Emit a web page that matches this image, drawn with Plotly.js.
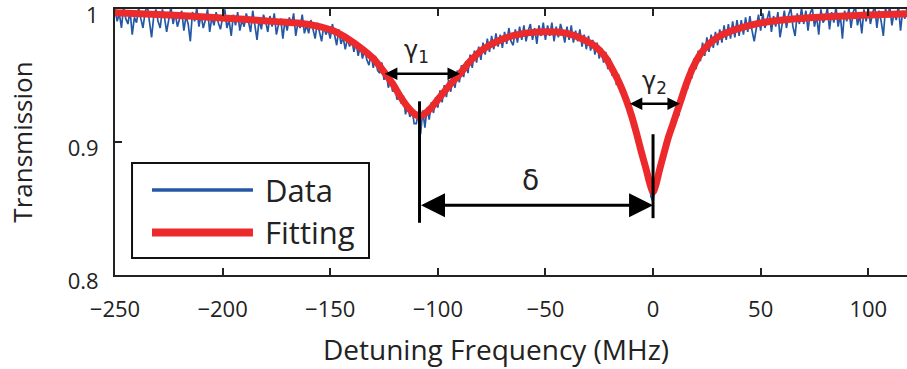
<!DOCTYPE html>
<html>
<head>
<meta charset="utf-8">
<script src="https://cdn.plot.ly/plotly-3.0.1.min.js"></script>
<style>html,body{margin:0;padding:0;background:#fff;}#chart{width:907px;height:369px;}</style>
</head>
<body>
<div id="chart"></div>
<script>
// ---- data ----
const dataX0 = -250;      // first sample (MHz)
const dataStep = 1;       // sample spacing (MHz)
const dataY = [
 1.001,0.991,0.997,0.986,1.002,0.993,0.989,0.999,0.981,0.994,
 0.990,1.001,0.993,0.986,0.998,1.003,0.991,0.979,0.995,1.000,
 0.991,0.986,1.000,0.994,0.983,0.993,1.002,0.989,0.997,0.987,
 0.993,0.999,0.984,0.995,0.989,0.976,0.998,0.991,1.001,0.987,
 0.996,0.986,0.992,1.000,0.983,0.994,0.988,0.998,0.990,0.985,
 0.994,1.000,0.986,0.992,0.980,0.996,0.988,0.998,0.984,0.992,
 0.987,0.997,0.991,0.983,0.999,0.988,0.977,0.993,0.985,0.996,
 0.991,0.983,0.995,0.987,0.997,0.981,0.989,0.993,0.978,0.992,
 0.984,0.994,0.988,0.997,0.980,0.990,0.986,0.996,0.982,0.988,
 0.982,0.992,0.986,0.978,0.990,0.984,0.976,0.988,0.981,0.985,
 0.978,0.989,0.981,0.973,0.985,0.974,0.979,0.970,0.978,0.972,
 0.978,0.968,0.975,0.965,0.973,0.963,0.970,0.962,0.958,0.967,
 0.956,0.965,0.954,0.952,0.960,0.947,0.953,0.941,0.948,0.938,
 0.945,0.932,0.937,0.929,0.935,0.921,0.928,0.919,0.925,0.914,
 0.914,0.923,0.906,0.924,0.911,0.926,0.917,0.930,0.922,0.934,
 0.926,0.939,0.930,0.943,0.934,0.947,0.938,0.950,0.941,0.954,
 0.945,0.958,0.949,0.961,0.952,0.966,0.956,0.969,0.960,0.972,
 0.962,0.975,0.966,0.978,0.968,0.980,0.970,0.982,0.972,0.981,
 0.971,0.983,0.974,0.986,0.976,0.973,0.985,0.975,0.987,0.977,
 0.988,0.976,0.984,0.989,0.977,0.986,0.974,0.988,0.980,0.990,
 0.977,0.988,0.980,0.990,0.976,0.987,0.979,0.989,0.983,0.975,
 0.987,0.977,0.988,0.975,0.984,0.976,0.985,0.972,0.981,0.970,
 0.980,0.969,0.977,0.966,0.975,0.963,0.971,0.960,0.968,0.955,
 0.963,0.950,0.956,0.943,0.951,0.937,0.942,0.930,0.934,0.920,
 0.925,0.909,0.913,0.897,0.901,0.884,0.889,0.872,0.876,0.859,
 0.855,0.872,0.866,0.885,0.880,0.896,0.892,0.908,0.903,0.918,
 0.913,0.928,0.920,0.938,0.931,0.947,0.940,0.956,0.948,0.963,
 0.955,0.969,0.961,0.975,0.965,0.979,0.968,0.981,0.971,0.983,
 0.973,0.985,0.975,0.988,0.977,0.989,0.978,0.991,0.979,0.992,
 0.980,0.992,0.981,0.994,0.983,0.995,0.984,0.976,0.986,0.996,
 0.984,0.997,0.986,0.993,0.999,0.983,0.995,0.987,0.998,0.979,
 0.988,0.999,0.986,0.996,1.001,0.987,0.980,0.997,0.989,1.001,
 0.989,0.999,0.984,0.997,1.001,0.987,0.995,0.981,1.000,0.990,
 0.993,1.001,0.985,0.998,0.990,1.002,0.987,0.996,0.978,0.999,
 0.991,1.001,0.986,0.998,1.002,0.988,0.996,0.982,1.000,0.991,
 1.001,0.989,0.997,1.003,0.986,0.999,0.991,0.980,1.001,0.994,
 1.002,0.988,0.998,0.992,1.003,0.984,0.999,0.993,1.001
];
const dataX = dataY.map((_, i) => dataX0 + i * dataStep);

const fitX = [-250,-230,-210,-190,-175,-164,-155,-148,-141,-135,-130,-125,-121,-117.5,-114,-111,-108.5,-106,-103,-99,-95,-90,-85,-79,-71,-63,-56,-49.5,-42,-36,-32.5,-28,-24.7,-21.5,-18.6,-15.5,-12.4,-10,-7.7,-5.5,-3.1,-1.5,0,1.5,3,4.6,7,9.3,12.4,15.5,18.6,22,26.3,31,37.1,45,52.6,65,83.6,100,118];
const fitY = [0.9975,0.9962,0.9944,0.9925,0.9908,0.9895,0.9870,0.9835,0.9770,0.9700,0.9630,0.9530,0.9440,0.9345,0.9265,0.9215,0.9195,0.9215,0.9260,0.9340,0.9420,0.9510,0.9610,0.9700,0.9770,0.9810,0.9827,0.9832,0.9825,0.9800,0.9775,0.9735,0.9690,0.9625,0.9540,0.9440,0.9316,0.9200,0.9068,0.8930,0.8790,0.8690,0.8624,0.8690,0.8790,0.8887,0.9030,0.9140,0.9290,0.9440,0.9564,0.9665,0.9744,0.9800,0.9842,0.9880,0.9905,0.9928,0.9947,0.9958,0.9967];

const xTicks = [-250,-200,-150,-100,-50,0,50,100];
const yTicks = [0.8,0.9,1];
const yTickText = ['0.8','0.9','1'];
const seriesNames = ['Data','Fitting'];

// annotation markers (MHz / transmission)
const dip1X = -108.5, dip2X = 0;
const gamma1 = {x0:-125.3, x1:-89.7, y:0.9516};
const gamma2 = {x0:-11.5, x1:12.5, y:0.929};
const deltaY = 0.8526;

const BLUE = '#2458a6', RED = '#ec2a2c';
const FONT = 'Open Sans, Noto Sans, sans-serif';
const GREEK = 'DejaVu Sans, Noto Sans, sans-serif';

const traces = [
  {x:dataX, y:dataY, type:'scatter', mode:'lines', name:seriesNames[0],
   line:{color:BLUE, width:1.7}, showlegend:false, hoverinfo:'skip'},
  {x:fitX, y:fitY, type:'scatter', mode:'lines', name:seriesNames[1],
   line:{color:RED, width:7, shape:'spline', smoothing:0.7}, showlegend:false, hoverinfo:'skip'}
];

const arrowBase = {xref:'x', yref:'y', axref:'x', ayref:'y', text:'', showarrow:true,
  arrowcolor:'#000', arrowside:'end+start', arrowhead:2, startarrowhead:2};

const annotations = [
  Object.assign({}, arrowBase, {x:gamma1.x1, y:gamma1.y, ax:gamma1.x0, ay:gamma1.y, arrowwidth:2.5, arrowsize:1, startarrowsize:1}),
  Object.assign({}, arrowBase, {x:gamma2.x1, y:gamma2.y, ax:gamma2.x0, ay:gamma2.y, arrowwidth:2.5, arrowsize:1, startarrowsize:1}),
  Object.assign({}, arrowBase, {x:dip2X, y:deltaY, ax:dip1X, ay:deltaY, arrowwidth:3, arrowsize:1.6, startarrowsize:1.6}),
  {xref:'x', yref:'y', x:-109.8, y:0.968, text:'γ<sub>1</sub>', showarrow:false, font:{family:GREEK, size:24, color:'#222'}},
  {xref:'x', yref:'y', x:0.8, y:0.9453, text:'γ<sub>2</sub>', showarrow:false, font:{family:GREEK, size:24, color:'#222'}},
  {xref:'x', yref:'y', x:-57, y:0.871, text:'δ', showarrow:false, font:{family:GREEK, size:28, color:'#222'}},
  // legend texts
  {xref:'paper', yref:'paper', x:0.1870, y:0.3195, xanchor:'left', yanchor:'middle', text:seriesNames[0], showarrow:false, font:{family:FONT, size:31, color:'#222'}},
  {xref:'paper', yref:'paper', x:0.1870, y:0.1598, xanchor:'left', yanchor:'middle', text:seriesNames[1], showarrow:false, font:{family:FONT, size:31, color:'#222'}},
  // x axis title
  {xref:'paper', yref:'paper', x:0.481, y:-0.278, xanchor:'center', yanchor:'middle', text:'Detuning Frequency (MHz)', showarrow:false, font:{family:FONT, size:28, color:'#222'}}
];

const shapes = [
  {type:'line', xref:'x', yref:'y', x0:dip1X, x1:dip1X, y0:0.8393, y1:0.9308, line:{color:'#000', width:3}},
  {type:'line', xref:'x', yref:'y', x0:dip2X, x1:dip2X, y0:0.8428, y1:0.906, line:{color:'#000', width:3}},
  // custom legend
  {type:'rect', xref:'paper', yref:'paper', x0:0.0215, x1:0.3207, y0:0.0639, y1:0.421, line:{color:'#111', width:2}, fillcolor:'#fff', layer:'above'},
  {type:'line', xref:'paper', yref:'paper', x0:0.0467, x1:0.1742, y0:0.3195, y1:0.3195, line:{color:BLUE, width:3.3}, layer:'above'},
  {type:'line', xref:'paper', yref:'paper', x0:0.0467, x1:0.1742, y0:0.1598, y1:0.1598, line:{color:RED, width:8}, layer:'above'}
];

const layout = {
  width:907, height:369,
  margin:{l:115, r:0, t:9, b:94},
  paper_bgcolor:'#fff', plot_bgcolor:'#fff',
  font:{family:FONT, color:'#222'},
  showlegend:false,
  xaxis:{range:[-250,118], tickvals:xTicks, ticks:'inside', ticklen:7, tickwidth:2, tickcolor:'#222',
    showline:true, linecolor:'#222', linewidth:2, mirror:'ticks', showgrid:false, zeroline:false,
    tickfont:{family:FONT, size:22, color:'#222'}, ticklabelstandoff:14, ticklabeloverflow:'allow'},
  yaxis:{range:[0.8,1.0003], tickvals:yTicks, ticktext:yTickText, ticks:'inside', ticklen:7, tickwidth:2, tickcolor:'#222',
    showline:true, linecolor:'#222', linewidth:2, showgrid:false, zeroline:false,
    tickfont:{family:FONT, size:22, color:'#222'}, ticklabelstandoff:10, ticklabelshift:6, ticklabeloverflow:'allow',
    title:{text:'Transmission', font:{family:FONT, size:26, color:'#222'}, standoff:28}},
  annotations:annotations,
  shapes:shapes
};

Plotly.newPlot('chart', traces, layout, {staticPlot:true, displayModeBar:false});
</script>
</body>
</html>
